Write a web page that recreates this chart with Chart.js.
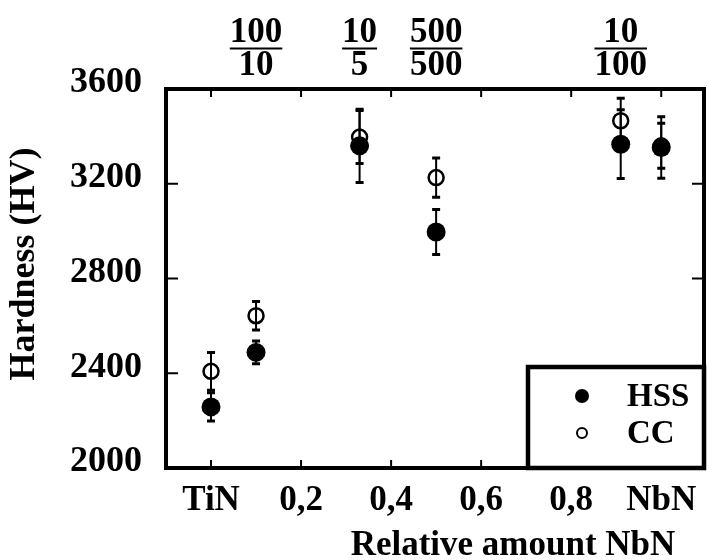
<!DOCTYPE html>
<html>
<head>
<meta charset="utf-8">
<script src="https://cdn.jsdelivr.net/npm/chart.js@4.4.1/dist/chart.umd.min.js"></script>
<style>
  html, body { margin: 0; padding: 0; background: #fff; overflow: hidden; }
  #wrap { width: 707px; height: 560px; position: relative; }
  canvas { display: block; }
</style>
</head>
<body>
<div id="wrap"><canvas id="hardness"></canvas></div>
<script>
// relative amount of NbN in the coating
const composition = [0, 0.1, 0.33, 0.5, 0.91, 1.0];
const hss    = [2258, 2488, 3360, 2996, 3367, 3353];
const hssErr = [60, 48, 155, 95, 145, 130];
const cc     = [2408, 2643, 3397, 3226, 3466, 3360];
const ccErr  = [80, 60, 112, 83, 95, 95];
// layer ratio written above some of the points
const ratioTop    = ['', '100', '10', '500', '10', ''];
const ratioBottom = ['', '10', '5', '500', '100', ''];
const xTicks = [0, 0.2, 0.4, 0.6, 0.8, 1.0];
const yTicks = [2000, 2400, 2800, 3200, 3600];

const serif = '"Liberation Serif", "Times New Roman", serif';
const X_MIN = -0.1, X_MAX = 1.095;

function toPoints(ys) {
    return composition.map((x, i) => ({ x: x, y: ys[i] }));
}

const errorBars = {
    id: 'errorBars',
    beforeDatasetsDraw(chart) {
        const { ctx, scales: { x, y } } = chart;
        ctx.save();
        ctx.strokeStyle = '#000';
        chart.data.datasets.forEach(ds => {
            ds.data.forEach((p, i) => {
                const e = ds.errors[i];
                const px = x.getPixelForValue(p.x);
                const top = y.getPixelForValue(p.y + e);
                const bot = y.getPixelForValue(p.y - e);
                ctx.lineWidth = 2;
                ctx.beginPath(); ctx.moveTo(px, top); ctx.lineTo(px, bot); ctx.stroke();
                ctx.lineWidth = 3;
                ctx.beginPath();
                ctx.moveTo(px - 4, top); ctx.lineTo(px + 4, top);
                ctx.moveTo(px - 4, bot); ctx.lineTo(px + 4, bot);
                ctx.stroke();
            });
        });

        // inward tick marks on all four sides
        const ca = chart.chartArea;
        ctx.lineWidth = 2;
        ctx.beginPath();
        xTicks.forEach(v => {
            const px = x.getPixelForValue(v);
            ctx.moveTo(px, ca.bottom); ctx.lineTo(px, ca.bottom - 8);
            ctx.moveTo(px, ca.top); ctx.lineTo(px, ca.top + 8);
        });
        yTicks.forEach(v => {
            const py = y.getPixelForValue(v);
            ctx.moveTo(ca.left, py); ctx.lineTo(ca.left + 12, py);
            ctx.moveTo(ca.right, py); ctx.lineTo(ca.right - 12, py);
        });
        ctx.stroke();
        ctx.restore();
    }
};

const annotations = {
    id: 'annotations',
    afterDraw(chart) {
        const { ctx, chartArea: ca, scales: { x } } = chart;
        ctx.save();
        ctx.fillStyle = '#000';
        ctx.strokeStyle = '#000';

        // fractions above the plot
        ctx.font = 'bold 35px ' + serif;
        ctx.textAlign = 'center';
        ctx.textBaseline = 'alphabetic';
        composition.forEach((v, i) => {
            if (!ratioTop[i]) return;
            const px = x.getPixelForValue(v);
            const w = Math.max(ctx.measureText(ratioTop[i]).width, ctx.measureText(ratioBottom[i]).width);
            ctx.fillText(ratioTop[i], px, 42);
            ctx.lineWidth = 2;
            ctx.beginPath(); ctx.moveTo(px - w / 2, 48.5); ctx.lineTo(px + w / 2, 48.5); ctx.stroke();
            ctx.fillText(ratioBottom[i], px, 75);
        });

        // axis titles
        ctx.font = 'bold 35px ' + serif;
        ctx.fillText('Relative amount NbN', ca.left + 347, 555);
        ctx.save();
        ctx.translate(25, 264);
        ctx.rotate(-Math.PI / 2);
        ctx.textBaseline = 'middle';
        ctx.font = 'bold 36px ' + serif;
        ctx.fillText('Hardness (HV)', 0, 0);
        ctx.restore();

        // legend box in the lower right corner
        const bx = ca.right - 176, by = ca.bottom - 101;
        ctx.fillStyle = '#fff';
        ctx.fillRect(bx, by, ca.right - bx, ca.bottom - by);
        ctx.lineWidth = 4.5;
        ctx.strokeRect(bx, by, ca.right - bx, ca.bottom - by);
        ctx.fillStyle = '#000';
        const ds = chart.data.datasets;
        ctx.beginPath(); ctx.arc(bx + 54, by + 29, 7, 0, Math.PI * 2); ctx.fill();
        ctx.lineWidth = 2;
        ctx.beginPath(); ctx.arc(bx + 54, by + 66, 5, 0, Math.PI * 2); ctx.stroke();
        ctx.font = 'bold 33px ' + serif;
        ctx.textAlign = 'left';
        ctx.textBaseline = 'middle';
        ctx.fillText(ds[0].label, bx + 99, by + 30);
        ctx.fillText(ds[1].label, bx + 99, by + 67);
        ctx.restore();
    }
};

const frame = { display: true, color: '#000', width: 4 };

new Chart(document.getElementById('hardness'), {
    type: 'scatter',
    data: {
        datasets: [
            {
                label: 'HSS', data: toPoints(hss), errors: hssErr, order: 1,
                pointRadius: 9.5, backgroundColor: '#000', borderColor: '#000', borderWidth: 0
            },
            {
                label: 'CC', data: toPoints(cc), errors: ccErr, order: 0,
                pointRadius: 7.5, backgroundColor: 'rgba(0,0,0,0)', borderColor: '#000', borderWidth: 2.5
            }
        ]
    },
    options: {
        responsive: true,
        maintainAspectRatio: false,
        animation: false,
        layout: { padding: 0, autoPadding: false },
        plugins: { legend: { display: false }, tooltip: { enabled: false } },
        scales: {
            x: {
                type: 'linear', position: 'bottom', min: X_MIN, max: X_MAX,
                afterBuildTicks: s => { s.ticks = xTicks.map(v => ({ value: v })); },
                afterFit: s => { s.height = 92; s.paddingLeft = 0; s.paddingRight = 0; },
                grid: { display: false, drawTicks: false },
                border: frame,
                ticks: {
                    color: '#000', padding: 12, maxRotation: 0, autoSkip: false,
                    font: { family: serif, size: 35, weight: 'bold' },
                    callback: v => v === 0 ? 'TiN' : v === 1 ? 'NbN' : v.toFixed(1).replace('.', ',')
                }
            },
            xTop: {
                type: 'linear', position: 'top', min: X_MIN, max: X_MAX,
                afterFit: s => { s.height = 89; s.paddingLeft = 0; s.paddingRight = 0; },
                grid: { display: false, drawTicks: false },
                border: frame,
                ticks: { display: false }
            },
            y: {
                type: 'linear', position: 'left', min: 2000, max: 3600,
                afterBuildTicks: s => { s.ticks = yTicks.map(v => ({ value: v })); },
                afterFit: s => { s.width = 166; s.paddingTop = 0; s.paddingBottom = 0; },
                grid: { display: false, drawTicks: false },
                border: frame,
                ticks: {
                    color: '#000', padding: 24, labelOffset: -6,
                    font: { family: serif, size: 36, weight: 'bold' },
                    callback: v => String(v)
                }
            },
            yRight: {
                type: 'linear', position: 'right', min: 2000, max: 3600,
                afterFit: s => { s.width = 3; },
                grid: { display: false, drawTicks: false },
                border: frame,
                ticks: { display: false }
            }
        }
    },
    plugins: [errorBars, annotations]
});
</script>
</body>
</html>
